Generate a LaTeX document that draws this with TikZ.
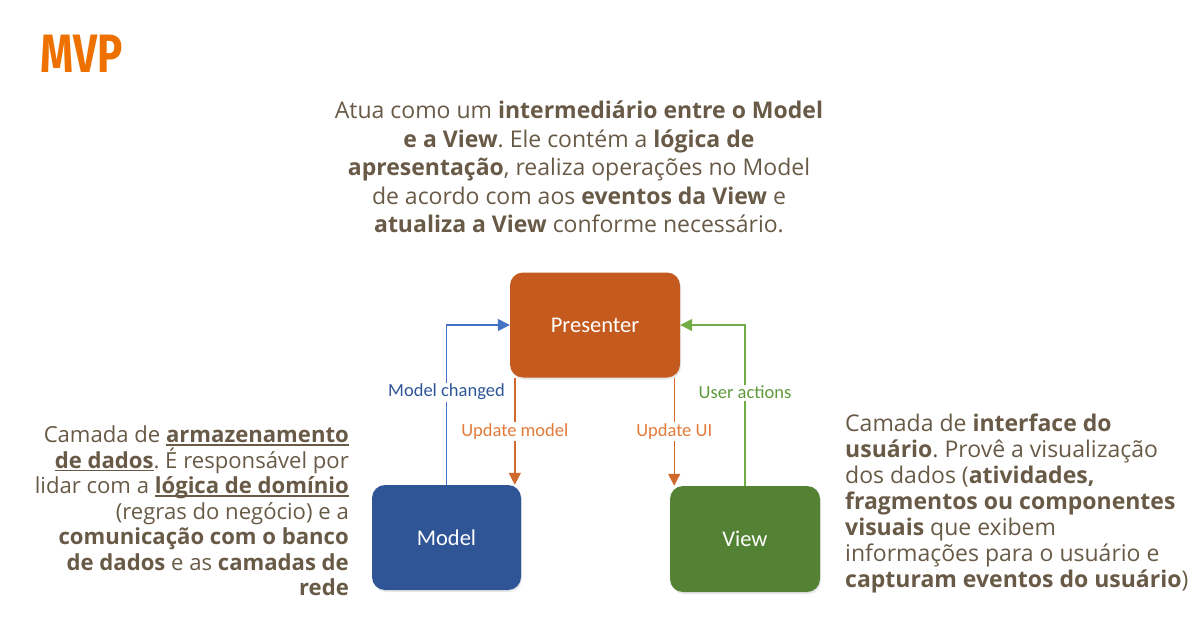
\documentclass[tikz,border=0pt]{standalone}
\usepackage{fontspec}
\setmainfont{Open Sans}
\newfontfamily\lblfont{Carlito}
\newfontfamily\titlefont{Fira Sans}[FakeStretch=0.78]
\usetikzlibrary{arrows.meta,shadows}
\definecolor{txt}{HTML}{685A46}
\definecolor{titleor}{HTML}{EE7100}
\definecolor{presfill}{HTML}{C55A1E}
\definecolor{modelfill}{HTML}{2F5597}
\definecolor{viewfill}{HTML}{548235}
\definecolor{bline}{HTML}{4472C4}
\definecolor{btext}{HTML}{2F5597}
\definecolor{oline}{HTML}{D2692C}
\definecolor{otext}{HTML}{E27B3A}
\definecolor{gline}{HTML}{70AD47}
\definecolor{gtext}{HTML}{5E9A3A}
\newcommand\ulx[1]{\leavevmode\setbox0\hbox{#1}\rlap{\rule[-3pt]{\wd0}{1.6pt}}\box0}
\frenchspacing
\begin{document}
\begin{tikzpicture}[x=1pt,y=-1pt,
  box/.style={rounded corners=13pt, inner sep=0pt, text=white,
    font=\lblfont\fontsize{22.5}{22.5}\selectfont,
    drop shadow={opacity=0.18, shadow xshift=1pt, shadow yshift=-2pt}},
  lbl/.style={fill=white, inner sep=1.5pt, font=\lblfont\fontsize{18.5}{18.5}\selectfont},
  conn/.style={line width=1.4pt, -{Triangle[length=12pt,width=12pt]}},
  para/.style={inner sep=0pt, text=txt, font=\fontsize{22.1}{25.5}\selectfont},
  rpara/.style={inner sep=0pt, text=txt, font=\fontsize{23}{26}\selectfont},
  toppara/.style={inner sep=0pt, text=txt, font=\fontsize{23}{28.5}\selectfont}]
\useasboundingbox[fill=white] (0,0) rectangle (1198,620);

\node[anchor=base west, inner sep=0pt, text=titleor,
  font=\titlefont\bfseries\fontsize{54}{54}\selectfont] (title) at (40,73) {MVP};

\node[toppara, align=center, anchor=north] (desc) at (579,101)
 {Atua como um \textbf{intermediário entre o Model}\\
  \textbf{e a View}. Ele contém a \textbf{lógica de}\\
  \textbf{apresentação}, realiza operações no Model\\
  de acordo com aos \textbf{eventos da View} e\\
  \textbf{atualiza a View} conforme necessário.};

\node[para, align=right, anchor=north east] (mdesc) at (349,426)
 {Camada de \ulx{\textbf{armazenamento}}\\
  \ulx{\textbf{de dados}}. É responsável por\\
  lidar com a \ulx{\textbf{lógica de domínio}}\\
  (regras do negócio) e a\\
  \textbf{comunicação com o banco}\\
  \textbf{de dados} e as \textbf{camadas de}\\
  \textbf{rede}};

\node[rpara, align=left, anchor=north west] (vdesc) at (845,414)
 {Camada de \textbf{interface do}\\
  \textbf{usuário}. Provê a visualização\\
  dos dados (\textbf{atividades,}\\
  \textbf{fragmentos ou componentes}\\
  \textbf{visuais} que exibem\\
  informações para o usuário e\\
  \textbf{capturam eventos do usuário})};

\node[box, fill=presfill, minimum width=170pt, minimum height=105pt] (pres) at (595,325) {Presenter};
\node[box, fill=modelfill, minimum width=149pt, minimum height=105pt] (model) at (446.5,537.5) {Model};
\node[box, fill=viewfill, minimum width=150pt, minimum height=106pt] (view) at (745,539) {View};

\draw[conn, draw=bline] (model.north) |- node[lbl, text=btext, pos=0.29] (lmc) {Model changed} (pres.west);
\draw[conn, draw=gline] (view.north) |- node[lbl, text=gtext, pos=0.29] (lua) {User actions} (pres.east);
\draw[conn, draw=oline] ([xshift=5pt]pres.south west) -- node[lbl, text=otext, pos=0.5] (lum) {Update model} ([xshift=5pt]pres.south west |- model.north);
\draw[conn, draw=oline] ([xshift=-6pt]pres.south east) -- node[lbl, text=otext, pos=0.5] (lui) {Update UI} ([xshift=-6pt]pres.south east |- view.north);
\end{tikzpicture}
\end{document}
